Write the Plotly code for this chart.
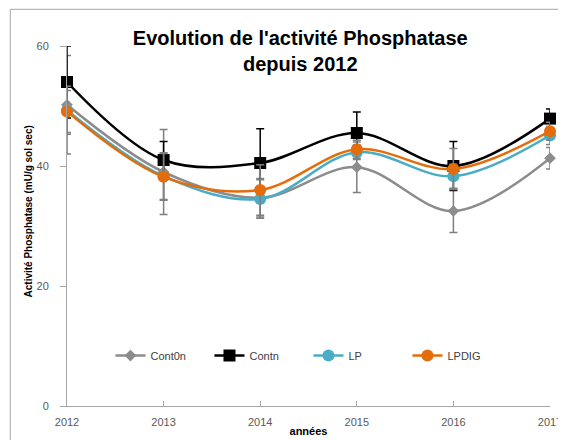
"""Evolution de l'activité Phosphatase depuis 2012"""

import plotly.graph_objects as go

years = [2012, 2013, 2014, 2015, 2016, 2017]

cont0n = [50.2, 39.0, 34.7, 39.8, 32.5, 41.3]
contn = [54.0, 41.0, 40.5, 45.5, 40.0, 47.9]
lp = [49.3, 38.3, 34.5, 42.3, 38.3, 45.1]
lpdig = [49.1, 38.2, 36.0, 42.8, 39.5, 45.8]

cont0n_err = [8.2, 7.1, 3.2, 4.2, 3.6, 1.8]
contn_err = [6.0, 3.1, 5.7, 3.5, 4.1, 1.6]
lp_err = [4.0, 3.9, 3.2, 1.2, 2.0, 1.5]
lpdig_err = [3.5, 3.9, 4.2, 1.5, 3.4, 1.5]

FONT = "Liberation Sans"

series = [
    ("Cont0n", cont0n, cont0n_err, "#8c8c8c", "diamond", 9, "#7f7f7f"),
    ("Contn", contn, contn_err, "#000000", "square", 12, "#000000"),
    ("LP", lp, lp_err, "#4bacc6", "circle", 12, "#7f7f7f"),
    ("LPDIG", lpdig, lpdig_err, "#e46c0a", "circle", 12, "#7f7f7f"),
]

fig = go.Figure()
for name, vals, errs, color, symbol, size, err_color in series:
    fig.add_trace(
        go.Scatter(
            x=years,
            y=vals,
            name=name,
            mode="lines+markers",
            cliponaxis=False,
            line={"color": color, "width": 2.5, "shape": "spline", "smoothing": 1},
            marker={"symbol": symbol, "size": size, "color": color},
            error_y={
                "type": "data",
                "array": errs,
                "visible": True,
                "color": err_color,
                "thickness": 1.5,
                "width": 4,
            },
        )
    )

fig.update_layout(
    width=566,
    height=440,
    margin={"l": 59, "r": 13, "t": 38, "b": 39},
    paper_bgcolor="white",
    plot_bgcolor="white",
    font={"family": FONT, "size": 11, "color": "#595959"},
    title={
        "text": "<b>Evolution de l'activité Phosphatase<br>depuis 2012</b>",
        "x": 0.483,
        "xref": "paper",
        "xanchor": "center",
        "y": 0.915,
        "yanchor": "top",
        "font": {"family": FONT, "size": 20, "color": "#000000"},
    },
    showlegend=True,
    legend={
        "orientation": "h",
        "x": 0.09,
        "xanchor": "left",
        "y": 0.14,
        "yanchor": "middle",
        "font": {"size": 11, "color": "#404040"},
        "itemwidth": 30,
        "entrywidth": 54,
        "bgcolor": "rgba(0,0,0,0)",
    },
    xaxis={
        "range": [2012, 2017],
        "tickvals": years,
        "showgrid": False,
        "zeroline": False,
        "showline": True,
        "linecolor": "#a6a6a6",
        "ticks": "inside",
        "ticklen": 5,
        "tickcolor": "#a6a6a6",
        "ticklabeloverflow": "allow",
        "ticklabelstandoff": 6,
        "title": {"text": "<b>années</b>", "font": {"size": 11, "color": "#000000"}, "standoff": 0},
    },
    yaxis={
        "range": [0, 60],
        "tickvals": [0, 20, 40, 60],
        "showgrid": False,
        "zeroline": False,
        "showline": True,
        "linecolor": "#a6a6a6",
        "ticks": "outside",
        "ticklen": 6,
        "tickcolor": "#a6a6a6",
        "ticklabelstandoff": 9,
    },
)

# y-axis title placed as an annotation to match its vertical position
fig.add_annotation(
    text="<b>Activité Phosphatase (mU/g sol sec)</b>",
    textangle=-90,
    xref="paper",
    yref="paper",
    x=-39 / 494,
    xanchor="center",
    y=(401 - 205) / 363,
    yanchor="middle",
    showarrow=False,
    font={"family": FONT, "size": 10, "color": "#000000"},
)

# outer chart frame
fig.add_shape(
    type="rect",
    xref="paper",
    yref="paper",
    x0=-58 / 494,
    x1=1 + 12 / 494,
    y0=-38 / 363,
    y1=1 + 37 / 363,
    line={"color": "#a6a6a6", "width": 1},
    layer="below",
)

fig.write_html("out.html")
